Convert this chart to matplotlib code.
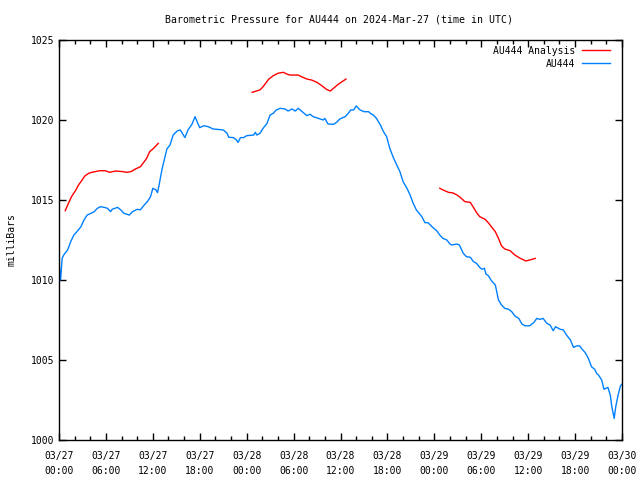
import matplotlib
matplotlib.use('Agg')
import matplotlib.pyplot as plt
import numpy as np

# hours since 2024-03-27 00:00 UTC, pressure in mb
blue_hours = [0.0, 0.2, 0.4, 0.6, 1.1, 1.5, 1.9, 2.3, 2.8, 3.2, 3.6, 4.1, 4.5, 4.9,
              5.3, 5.8, 6.2, 6.6, 6.8, 7.5, 7.9, 8.3, 9.0, 9.4, 10.0, 10.4, 10.9,
              11.3, 11.7, 12.0, 12.4, 12.6, 12.8, 13.2, 13.8, 14.2, 14.6, 15.1,
              15.5, 15.7, 16.1, 16.5, 17.0, 17.4, 17.7, 18.0, 18.5, 19.1, 19.7,
              21.0, 21.5, 21.7, 22.3, 22.7, 22.9, 23.2, 23.6, 24.0, 24.9, 25.1,
              25.3, 25.7, 26.1, 26.6, 27.0, 27.4, 27.8, 28.3, 28.9, 29.3, 29.8,
              30.2, 30.6, 31.0, 31.7, 32.1, 32.5, 33.2, 33.8, 34.0, 34.4, 35.1,
              35.5, 35.9, 36.6, 37.0, 37.3, 37.7, 38.0, 38.5, 39.0, 39.6, 39.8,
              40.2, 40.6, 41.1, 41.5, 41.9, 42.3, 42.8, 43.2, 43.6, 44.0, 44.5,
              44.9, 45.3, 45.7, 46.4, 46.8, 47.2, 47.7, 48.3, 48.7, 49.1, 49.6,
              50.0, 50.2, 50.9, 51.2, 51.7, 52.1, 52.6, 53.0, 53.4, 53.8, 54.1,
              54.4, 54.6, 54.9, 55.3, 55.8, 56.2, 56.6, 57.0, 57.5, 57.9, 58.3,
              58.8, 59.2, 59.6, 60.2, 60.7, 61.1, 61.5, 61.9, 62.4, 62.8, 63.2,
              63.5, 64.1, 64.5, 64.9, 65.4, 65.8, 66.2, 66.6, 66.8, 67.3, 67.7,
              68.1, 68.5, 68.8, 69.0, 69.4, 69.7, 70.2, 70.5, 70.7, 71.0, 71.2,
              71.5, 71.8, 72.0]
blue_mbar = [1011.14, 1010.0, 1011.35, 1011.56, 1011.88, 1012.4, 1012.81, 1013.02,
             1013.33, 1013.75, 1014.06, 1014.17, 1014.27, 1014.48, 1014.58, 1014.54,
             1014.48, 1014.27, 1014.42, 1014.54, 1014.38, 1014.17, 1014.06, 1014.27,
             1014.42, 1014.38, 1014.69, 1014.9, 1015.2, 1015.73, 1015.63, 1015.46,
             1015.94, 1016.98, 1018.19, 1018.44, 1019.06, 1019.31, 1019.38, 1019.23,
             1018.9, 1019.38, 1019.73, 1020.21, 1019.85, 1019.52, 1019.64, 1019.58,
             1019.44, 1019.38, 1019.17, 1018.92, 1018.9, 1018.75, 1018.6, 1018.9,
             1018.9, 1019.02, 1019.06, 1019.23, 1019.06, 1019.17, 1019.48, 1019.79,
             1020.31, 1020.42, 1020.63, 1020.73, 1020.69, 1020.56, 1020.69, 1020.56,
             1020.73, 1020.56, 1020.27, 1020.36, 1020.21, 1020.1, 1020.0, 1020.1,
             1019.75, 1019.73, 1019.85, 1020.06, 1020.21, 1020.42, 1020.63, 1020.63,
             1020.88, 1020.63, 1020.52, 1020.52, 1020.42, 1020.31, 1020.1, 1019.69,
             1019.27, 1018.96, 1018.23, 1017.6, 1017.19, 1016.77, 1016.15, 1015.73,
             1015.31, 1014.79, 1014.38, 1013.96, 1013.58, 1013.58, 1013.33, 1013.08,
             1012.81, 1012.6, 1012.5, 1012.25, 1012.19, 1012.25, 1012.19, 1011.67,
             1011.46, 1011.42, 1011.15, 1011.04, 1010.79, 1010.67, 1010.73, 1010.38,
             1010.27, 1009.96, 1009.69, 1008.75, 1008.44, 1008.23, 1008.17, 1008.02,
             1007.75, 1007.6, 1007.25, 1007.14, 1007.14, 1007.33, 1007.6, 1007.54,
             1007.6, 1007.29, 1007.19, 1006.83, 1007.08, 1006.92, 1006.88, 1006.56,
             1006.25, 1005.79, 1005.88, 1005.88, 1005.73, 1005.46, 1005.1, 1004.58,
             1004.42, 1004.13, 1004.06, 1003.75, 1003.17, 1003.29, 1002.81, 1002.08,
             1001.35, 1002.08, 1002.81, 1003.38, 1003.5]

# analysis runs, nan separates the three segments
red_hours = [0.8, 1.2, 1.6, 2.1, 2.5, 2.9, 3.3, 3.8, 4.2, 4.6, 5.2, 5.9, 6.5, 7.2,
             7.8, 8.2, 8.7, 9.3, 9.7, 10.4, 10.8, 11.2, 11.6, 12.1, 12.7, np.nan,
             24.7, 25.7, 26.1, 26.8, 27.4, 28.0, 28.7, 29.1, 29.5, 30.6, 31.0, 31.7,
             32.3, 33.0, 33.6, 34.2, 34.7, 35.1, 35.7, 36.4, 36.7, np.nan,
             48.7, 49.1, 49.8, 50.4, 50.9, 51.3, 51.9, 52.6, 53.0, 53.4, 53.8, 54.5,
             54.9, 55.3, 55.8, 56.2, 56.6, 57.0, 57.7, 58.3, 59.0, 59.7, 60.2, 60.9]
red_mbar = [1014.33, 1014.79, 1015.21, 1015.58, 1015.94, 1016.21, 1016.5, 1016.67,
            1016.73, 1016.77, 1016.83, 1016.83, 1016.73, 1016.81, 1016.79, 1016.77,
            1016.73, 1016.79, 1016.92, 1017.08, 1017.33, 1017.6, 1018.02, 1018.23,
            1018.54, np.nan,
            1021.73, 1021.88, 1022.08, 1022.54, 1022.77, 1022.92, 1022.98, 1022.88,
            1022.81, 1022.81, 1022.71, 1022.56, 1022.5, 1022.35, 1022.15, 1021.92,
            1021.81, 1021.98, 1022.23, 1022.46, 1022.56, np.nan,
            1015.73, 1015.63, 1015.48, 1015.44, 1015.31, 1015.17, 1014.9, 1014.85,
            1014.54, 1014.21, 1013.96, 1013.79, 1013.58, 1013.33, 1013.02, 1012.6,
            1012.13, 1011.94, 1011.83, 1011.56, 1011.35, 1011.19, 1011.25, 1011.35]

tick_labels = ['03/27\n00:00', '03/27\n06:00', '03/27\n12:00', '03/27\n18:00',
               '03/28\n00:00', '03/28\n06:00', '03/28\n12:00', '03/28\n18:00',
               '03/29\n00:00', '03/29\n06:00', '03/29\n12:00', '03/29\n18:00',
               '03/30\n00:00']

plt.rcParams['font.family'] = 'DejaVu Sans Mono'

fig = plt.figure(figsize=(6.4, 4.8), dpi=100)
ax = fig.add_axes([59/640, 40/480, 563/640, 400/480])

ax.plot(red_hours, red_mbar, color='#ff0000', lw=1.0, label='AU444 Analysis')
ax.plot(blue_hours, blue_mbar, color='#0080ff', lw=1.0, label='AU444')

ax.set_xlim(0, 72)
ax.set_ylim(1000, 1025)

ax.set_xticks(np.arange(0, 73, 6))
ax.set_xticklabels(tick_labels, fontsize=7, linespacing=1.65)
ax.set_xticks(np.arange(0, 73, 2), minor=True)
ax.set_yticks(np.arange(1000, 1026, 5))
ax.tick_params(axis='y', labelsize=7)
ax.tick_params(which='both', direction='in', top=True, right=True, width=1)
ax.tick_params(which='major', length=5)
ax.tick_params(which='minor', length=3)
ax.tick_params(axis='x', pad=8)

for s in ax.spines.values():
    s.set_linewidth(1)

ax.set_ylabel('milliBars', fontsize=7, labelpad=10)
fig.text(0.53, 1 - 19/480, 'Barometric Pressure for AU444 on 2024-Mar-27 (time in UTC)',
         ha='center', va='center', fontsize=7.1)

ax.legend(loc='upper right', bbox_to_anchor=(1 - 6/563, 1), frameon=False,
          markerfirst=False, fontsize=7, handlelength=2.9, borderaxespad=0.2,
          labelspacing=0.3, handletextpad=0.7)

fig.savefig('out.png', dpi=100)
plt.close(fig)
